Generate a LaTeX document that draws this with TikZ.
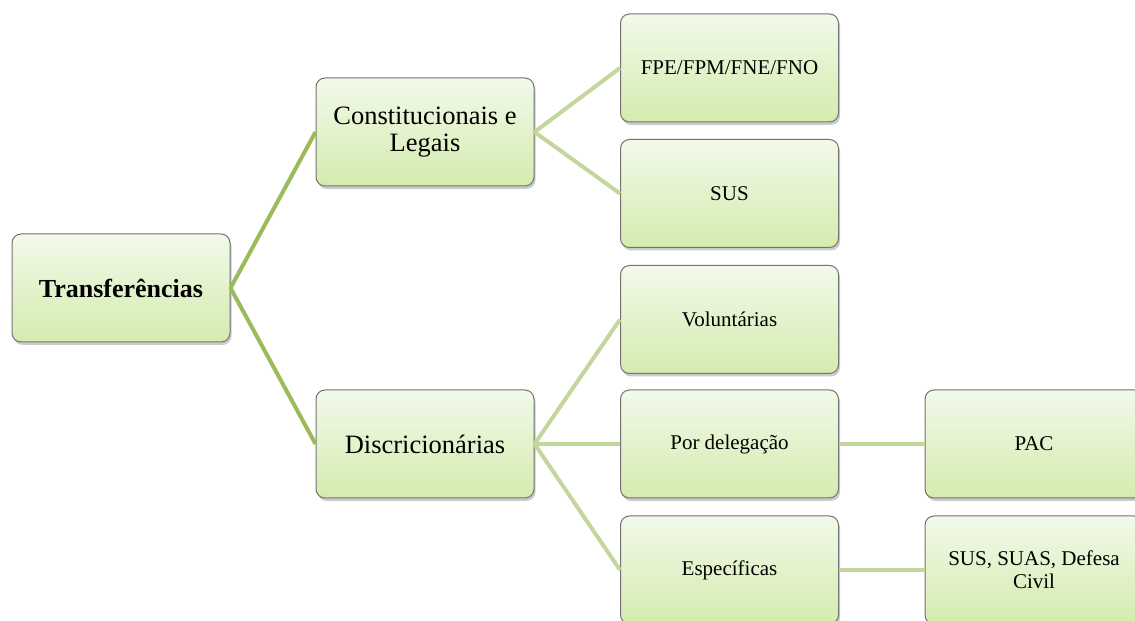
\documentclass[tikz,border=0pt]{standalone}
\usepackage{fontspec}
\setmainfont{Liberation Serif}
\usetikzlibrary{shadows}
\definecolor{boxtop}{HTML}{F2F9EA}
\definecolor{boxbot}{HTML}{D4ECAE}
\definecolor{boxline}{HTML}{737373}
\definecolor{darklink}{HTML}{9BBB59}
\definecolor{lightlink}{HTML}{C3D69B}
\begin{document}
\begin{tikzpicture}[x=1pt,y=1pt,
	box/.style={draw=boxline, line width=1pt, rounded corners=9pt, top color=boxtop, bottom color=boxbot, minimum width=218pt, minimum height=108pt, align=center, drop shadow={shadow xshift=1.5pt, shadow yshift=-3pt, opacity=0.4}},
	leaf/.style={box, font=\fontsize{21}{23}\selectfont},
	mid/.style={box, font=\fontsize{26.5}{27}\selectfont},
	rootlink/.style={draw=darklink, line width=4pt},
	leaflink/.style={draw=lightlink, line width=4pt}]
	\useasboundingbox (0,0) rectangle (1135,621);
	\clip (0,0) rectangle (1135,621);
	\node [box, font=\fontsize{26}{28}\selectfont\bfseries] (transf) at (121,333) {Transferências};
	\node [mid] (const) at (425,489) {Constitucionais e\\Legais};
	\node [mid] (discr) at (425,177) {Discricionárias};
	\node [leaf] (fpe) at (729.5,553) {FPE/FPM/FNE/FNO};
	\node [leaf] (sus) at (729.5,427.5) {SUS};
	\node [leaf] (volunt) at (729.5,301.5) {Voluntárias};
	\node [leaf] (deleg) at (729.5,177) {Por delegação};
	\node [leaf] (espec) at (729.5,51) {Específicas};
	\node [leaf] (pac) at (1034,177) {PAC};
	\node [leaf] (civil) at (1034,51) {SUS, SUAS, Defesa\\Civil};
	\draw [rootlink] (transf.east) -- (const.west);
	\draw [rootlink] (transf.east) -- (discr.west);
	\foreach \n in {fpe,sus} \draw [leaflink] (const.east) -- (\n.west);
	\foreach \n in {volunt,deleg,espec} \draw [leaflink] (discr.east) -- (\n.west);
	\draw [leaflink] (deleg.east) -- (pac.west);
	\draw [leaflink] (espec.east) -- (civil.west);
\end{tikzpicture}
\end{document}
